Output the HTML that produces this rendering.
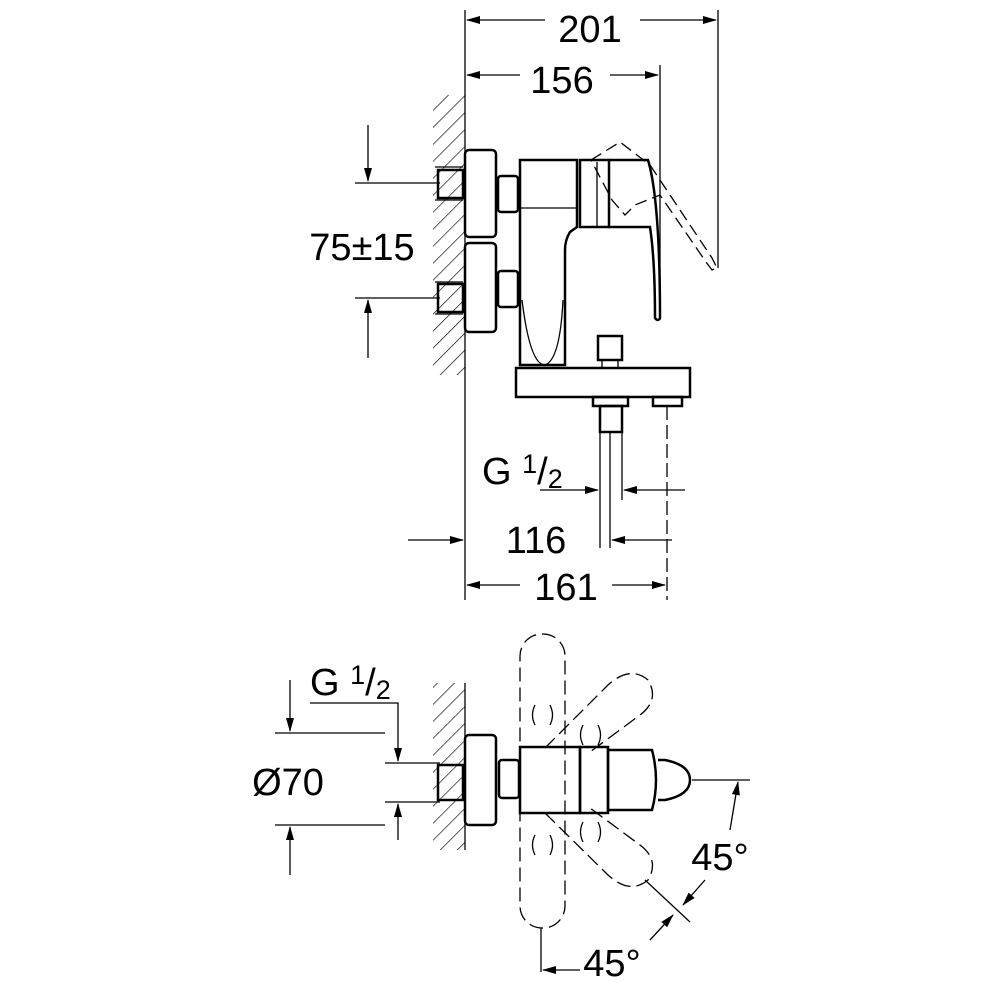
<!DOCTYPE html>
<html><head><style>html,body{margin:0;padding:0;background:#fff}svg{display:block}</style></head><body>
<svg width="1000" height="1000" viewBox="0 0 1000 1000" xmlns="http://www.w3.org/2000/svg" font-family="Liberation Sans, sans-serif">
<defs>
<pattern id="h" width="12" height="12" patternUnits="userSpaceOnUse" patternTransform="rotate(45)"><line x1="0" y1="0" x2="0" y2="12" stroke="#000" stroke-width="1.3"/></pattern>
<marker id="a" markerWidth="14" markerHeight="8" refX="13" refY="4" orient="auto" markerUnits="userSpaceOnUse"><path d="M0,0 L14,4 L0,8 z" fill="#000"/></marker>
</defs>
<g fill="none" stroke="#000" stroke-width="1.3">
<rect x="433" y="95" width="32" height="280" fill="url(#h)" stroke="none"/>
<line x1="465" y1="10" x2="465" y2="600"/>
<line x1="718" y1="10" x2="718" y2="268"/>
<line x1="660" y1="65" x2="660" y2="320"/>
<line x1="545" y1="20" x2="467" y2="20" marker-end="url(#a)"/><line x1="640" y1="20" x2="716" y2="20" marker-end="url(#a)"/>
<line x1="520" y1="75" x2="467" y2="75" marker-end="url(#a)"/><line x1="610" y1="75" x2="658" y2="75" marker-end="url(#a)"/>
<g stroke-width="2.5">
<rect x="465" y="150" width="31" height="87" rx="4"/>
<rect x="465" y="243" width="31" height="89" rx="4"/>
<rect x="438" y="170" width="25" height="28"/>
<rect x="438" y="284" width="25" height="28"/>
<rect x="498" y="176" width="20" height="36" rx="3"/>
<rect x="498" y="271" width="20" height="36" rx="3"/>
<path d="M520,160 H577 V227 L570,232 Q565,240 565,250 V365 H520 Z"/>
<line x1="520" y1="208" x2="577" y2="208" stroke-width="1.3"/>
<path d="M522,300 Q530,365 545,365 Q560,360 563,300" stroke-width="1.3"/>
<rect x="580" y="160" width="29" height="67"/>
<line x1="597" y1="162" x2="597" y2="227" stroke-width="1.3"/>
<path d="M609,160 H648 Q660,200 660,318 Q658,322 655,318 Q655,260 650,227 H609"/>
<path d="M516,368 H690 V397 H516 Z"/>
<rect x="598" y="336" width="24" height="24"/>
<path d="M602,360 V368 M618,360 V368" stroke-width="1.3"/>
<rect x="593" y="397" width="35" height="9"/>
<rect x="600" y="406" width="22" height="26"/>
<rect x="653" y="397" width="29" height="9"/>
</g>
<path d="M591,160 L620,142 L650,165 L712,258 L717,268 L712,270 L706,262 L660,195 L635,205 L625,215 L612,200 Z" stroke-dasharray="12,6"/>
<line x1="435" y1="167" x2="463" y2="167"/><line x1="435" y1="200" x2="463" y2="200"/>
<line x1="435" y1="282" x2="463" y2="282"/><line x1="435" y1="314" x2="463" y2="314"/>
<line x1="600" y1="432" x2="600" y2="548"/><line x1="610" y1="432" x2="610" y2="548"/><line x1="622" y1="432" x2="622" y2="500"/>
<line x1="667" y1="406" x2="667" y2="600" stroke-dasharray="14,5"/>
<line x1="540" y1="490" x2="598" y2="490" marker-end="url(#a)"/><line x1="685" y1="490" x2="624" y2="490" marker-end="url(#a)"/>
<line x1="408" y1="540" x2="463" y2="540" marker-end="url(#a)"/><line x1="672" y1="540" x2="612" y2="540" marker-end="url(#a)"/>
<line x1="520" y1="585" x2="467" y2="585" marker-end="url(#a)"/><line x1="612" y1="585" x2="665" y2="585" marker-end="url(#a)"/>
<line x1="355" y1="183" x2="440" y2="183"/><line x1="355" y1="298" x2="440" y2="298"/>
<line x1="368" y1="125" x2="368" y2="181" marker-end="url(#a)"/><line x1="368" y1="358" x2="368" y2="300" marker-end="url(#a)"/>
<rect x="433" y="683" width="32" height="167" fill="url(#h)" stroke="none"/>
<line x1="465" y1="683" x2="465" y2="850"/>
<g stroke-width="2.5">
<rect x="465" y="735" width="31" height="90" rx="4"/>
<rect x="438" y="765" width="25" height="35"/>
<rect x="499" y="760" width="20" height="38" rx="3"/>
<rect x="520" y="747" width="60" height="66"/>
<rect x="580" y="747" width="28" height="66"/>
<path d="M608,750 H652 Q660,780 652,810 H608 Z"/>
<path d="M658,760 H665 Q690,765 690,780 Q690,795 665,800 H658"/>
</g>
<rect x="520" y="634" width="45" height="294" rx="22" stroke-dasharray="14,6"/>
<path d="M545,748 L608,685 Q630,665 648,680 Q660,700 640,715 L590,752 M545,813 L608,875 Q630,895 648,880 Q660,860 640,845 L590,808" stroke-dasharray="14,6"/>
<path d="M535,705 q-5,10 0,20 M550,705 q5,10 0,20 M535,835 q-5,10 0,20 M550,835 q5,10 0,20 M583,725 q-5,10 0,20 M598,725 q5,10 0,20 M583,822 q-5,10 0,20 M598,822 q5,10 0,20"/>
<line x1="385" y1="763" x2="440" y2="763"/><line x1="385" y1="802" x2="440" y2="802"/>
<line x1="275" y1="733" x2="385" y2="733"/><line x1="275" y1="825" x2="385" y2="825"/>
<line x1="290" y1="680" x2="290" y2="731" marker-end="url(#a)"/><line x1="290" y1="875" x2="290" y2="827" marker-end="url(#a)"/>
<polyline points="310,703 398,703 398,761" marker-end="url(#a)"/><line x1="398" y1="840" x2="398" y2="804" marker-end="url(#a)"/>
<line x1="692" y1="780" x2="750" y2="780"/>
<path d="M730,830 L738,782" marker-end="url(#a)"/>
<line x1="645" y1="880" x2="690" y2="922"/>
<path d="M705,880 L683,905" marker-end="url(#a)"/><path d="M650,940 L673,915" marker-end="url(#a)"/>
<line x1="541" y1="928" x2="541" y2="972"/>
<line x1="580" y1="970" x2="543" y2="970" marker-end="url(#a)"/>
</g>
<g font-size="38" fill="#000" text-anchor="middle">
<text x="590" y="42">201</text>
<text x="562" y="93">156</text>
<text x="362" y="260">75±15</text>
<text x="536" y="553">116</text>
<text x="566" y="600">161</text>
<text x="288" y="795">Ø70</text>
<text x="720" y="870">45°</text>
<text x="612" y="976">45°</text>
<text x="482" y="484" text-anchor="start">G <tspan font-size="27" dy="-11">1</tspan><tspan dy="11">/</tspan><tspan font-size="27" dy="4">2</tspan></text>
<text x="310" y="695" text-anchor="start">G <tspan font-size="27" dy="-11">1</tspan><tspan dy="11">/</tspan><tspan font-size="27" dy="4">2</tspan></text>
</g>
</svg>
</body></html>
